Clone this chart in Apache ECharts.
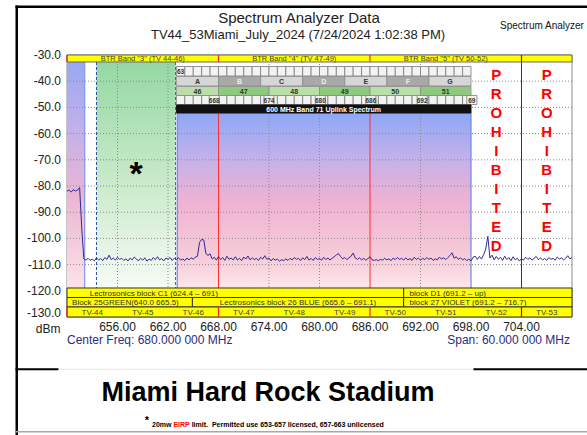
<!DOCTYPE html>
<html><head><meta charset="utf-8">
<script src="https://cdn.jsdelivr.net/npm/echarts@6/dist/echarts.min.js"></script>
<style>html,body{margin:0;padding:0;background:#fff}#c{width:587px;height:435px}</style>
</head><body><div id="c"></div>
<script>
// ---------------- DATA ----------------
const traceStartMHz = 650;
const traceStepMHz = 0.25;
const traceDbm = [
-82.0,-81.5,-82.3,-81.4,-81.9,-81.6,-80.6,-96.0,-107.8,-108.3,
-107.6,-108.4,-107.9,-108.6,-107.4,-108.2,-107.7,-108.5,-107.3,-108.0,
-106.4,-108.1,-107.5,-108.3,-107.2,-108.0,-107.6,-108.4,-107.8,-108.6,
-107.5,-108.2,-107.1,-107.9,-108.5,-107.6,-108.3,-107.4,-108.7,-107.9,
-108.4,-107.3,-108.1,-107.0,-108.2,-107.7,-108.6,-107.5,-108.0,-107.3,
-108.4,-107.6,-108.1,-107.4,-108.3,-107.8,-108.5,-107.5,-108.2,-107.4,
-107.9,-107.2,-106.8,-101.5,-100.4,-100.6,-105.8,-106.5,-105.9,-107.9,
-107.2,-108.3,-106.9,-108.1,-107.3,-108.4,-106.8,-108.0,-107.5,-108.2,
-107.0,-108.3,-107.6,-108.5,-107.1,-107.9,-106.7,-108.2,-107.4,-108.1,
-107.6,-108.4,-107.2,-107.9,-106.6,-108.0,-107.5,-108.6,-107.7,-108.3,
-107.9,-108.7,-108.1,-108.5,-107.8,-108.4,-107.6,-108.2,-107.3,-108.0,
-107.6,-108.5,-107.4,-108.1,-106.9,-108.3,-107.6,-108.4,-107.3,-108.0,
-107.7,-108.3,-107.2,-108.1,-107.5,-108.2,-107.6,-107.0,-106.3,-105.8,
-106.9,-107.8,-107.3,-108.1,-107.4,-106.8,-105.6,-107.5,-108.0,-107.4,
-108.2,-107.6,-108.3,-107.7,-107.0,-108.2,-108.4,-108.1,-108.5,-108.0,
-108.3,-107.6,-108.2,-107.8,-108.5,-107.5,-108.1,-107.3,-108.0,-107.6,
-108.3,-107.4,-108.2,-107.7,-108.4,-107.2,-108.0,-107.5,-108.3,-107.6,
-108.1,-107.3,-108.0,-107.5,-108.4,-107.8,-108.2,-107.1,-107.9,-107.4,
-108.1,-107.3,-106.5,-105.5,-107.6,-107.0,-108.0,-107.4,-108.2,-107.7,
-108.5,-107.9,-108.6,-107.2,-106.8,-108.0,-106.9,-107.9,-106.2,-104.0,
-99.2,-107.5,-106.4,-108.2,-106.9,-108.0,-107.2,-108.4,-106.8,-108.1,
-107.3,-108.5,-107.0,-108.2,-107.6,-108.6,-107.8,-108.3,-107.2,-108.0,
-107.4,-108.3,-107.6,-106.9,-108.1,-107.5,-108.2,-107.7,-108.4,-107.3,
-108.0,-107.6,-108.3,-107.1,-107.9,-107.4,-108.2,-107.6,-106.6,-107.8,
-107.3
];
const xTickValues = [656, 662, 668, 674, 680, 686, 692, 698, 704];
const btrLabels = ['BTR Band "3" (TV 44-46)', 'BTR Band "4" (TV 47-49)', 'BTR Band "5" (TV 50-52)', ''];
const btrEdges = [650, 668, 686, 704, 710];
const blockLetters = ['A', 'B', 'C', 'D', 'E', 'F', 'G'];
const blockEdges = [663, 668, 673, 678, 683, 688, 693, 698];
const tvTopLabels = ['46', '47', '48', '49', '50', '51'];
const tvTopEdges = [663, 668, 674, 680, 686, 692, 698];
const fineTopLabels = [['63', 663.5]];
const fineBottomLabels = [['668', 667.5], ['674', 674.0], ['680', 680.1], ['686', 686.1], ['692', 692.2], ['69', 698.1]];
const band71Label = '600 MHz Band 71 Uplink Spectrum';
const band71Range = [663, 698];
const lectroRow1Labels = ['Lectrosonics block C1 (624.4 \u2013 691)', 'block D1 (691.2 \u2013 up)'];
const lectroRow1Edges = [650, 690, 710];
const lectroRow2Labels = ['Block 25GREEN(640.0 665.5)', 'Lectrosonics block 26 BLUE (665.6 \u2013 691.1)', 'block 27 VIOLET (691.2 \u2013 716.7)'];
const lectroRow2Edges = [650, 664.9, 690, 710];
const tvBottomLabels = ['TV-44', 'TV-45', 'TV-46', 'TV-47', 'TV-48', 'TV-49', 'TV-50', 'TV-51', 'TV-52', 'TV-53'];
const tvBottomEdges = [650, 656, 662, 668, 674, 680, 686, 692, 698, 704, 710];
const redLineFreqs = [668, 686];
const darkRedLineFreqs = [704];
const mainRegionRanges = [[650, 652.1], [653.5, 662.9], [663.1, 698]];
const prohibitedCenters = [701, 707];

// ---------------- LAYOUT ----------------
const FONT = '"Liberation Sans", Arial, sans-serif';
const Y_TOPBAR = [-30, -32.67];
const Y_ROW1 = [-34.39, -38.02];
const Y_ROW2 = [-38.21, -41.83];
const Y_ROW3 = [-42.02, -45.46];
const Y_ROW4 = [-45.46, -48.89];
const Y_BLACK = [-49.08, -52.14];
const Y_REG_TOP = -32.67, Y_REG_BOT = -118.93;
const Y_BAR1 = [-118.93, -122.56];
const Y_BAR2 = [-122.56, -126.18];
const Y_BAR3 = [-126.18, -130];

const grad = (stops) => new echarts.graphic.LinearGradient(0, 0, 0, 1, stops.map((c) => ({offset: c[0], color: c[1]})));
const purpleGrad = grad([[0, '#98a8f4'], [0.3, '#c4b0ea'], [0.6, '#ecb6d2'], [1, '#fbe2e8']]);
const greenGrad = grad([[0, '#95d8a4'], [0.5, '#c6e9c8'], [1, '#f6fbf6']]);
const blueGrad = grad([[0, '#8ea7f6'], [0.27, '#c6b1ea'], [0.5, '#eeb2d2'], [0.84, '#f7cdd9'], [1, '#fde6ec']]);

const regions = [
  {x0: mainRegionRanges[0][0], x1: mainRegionRanges[0][1], y0: Y_REG_TOP, y1: Y_REG_BOT, fill: purpleGrad},
  {x0: mainRegionRanges[1][0], x1: mainRegionRanges[1][1], y0: Y_REG_TOP, y1: Y_REG_BOT, fill: greenGrad},
  {x0: mainRegionRanges[2][0], x1: mainRegionRanges[2][1], y0: Y_BLACK[1], y1: Y_REG_BOT, fill: blueGrad}
];

const gridLines = [];
for (let v = -120; v <= -40; v += 10) gridLines.push({x0: 650, y0: v, x1: 710, y1: v, stroke: '#8a8a8a', lw: 1, dash: [1, 2]});
[656, 662, 674, 680, 692].forEach(f => gridLines.push({x0: f, y0: -30, x1: f, y1: -130, stroke: '#8a8a8a', lw: 1, dash: [1, 2]}));

const markerLines = [];
redLineFreqs.forEach(f => markerLines.push({x0: f, y0: Y_BLACK[1], x1: f, y1: Y_REG_BOT, stroke: '#ff3030', lw: 1}));
darkRedLineFreqs.forEach(f => markerLines.push({x0: f, y0: Y_REG_TOP, x1: f, y1: Y_REG_BOT, stroke: '#b80000', lw: 1}));
markerLines.push({x0: mainRegionRanges[0][1], y0: Y_REG_TOP, x1: mainRegionRanges[0][1], y1: Y_REG_BOT, stroke: '#7e98ea', lw: 1.2});
markerLines.push({x0: mainRegionRanges[1][0], y0: Y_REG_TOP, x1: mainRegionRanges[1][0], y1: Y_REG_BOT, stroke: '#2a4aa8', lw: 1, dash: [3, 2]});
markerLines.push({x0: mainRegionRanges[1][1], y0: Y_REG_TOP, x1: mainRegionRanges[1][1], y1: Y_REG_BOT, stroke: '#3a5ab8', lw: 1, dash: [3, 2]});
markerLines.push({x0: mainRegionRanges[2][0], y0: Y_BLACK[1], x1: mainRegionRanges[2][0], y1: Y_REG_BOT, stroke: '#6a88e4', lw: 1.2});
markerLines.push({x0: mainRegionRanges[2][1], y0: Y_BLACK[1], x1: mainRegionRanges[2][1], y1: Y_REG_BOT, stroke: '#6a88e4', lw: 1.2});

const boxes = [];
const smallBold = 'bold 6.5px ' + FONT;
boxes.push({x0: 650, x1: 710, y0: Y_TOPBAR[0], y1: Y_TOPBAR[1], fill: '#ffff00', stroke: '#666', lw: 1});
btrLabels.forEach((t, i) => { if (t) boxes.push({x0: btrEdges[i], x1: btrEdges[i + 1], y0: Y_TOPBAR[0], y1: Y_TOPBAR[1], fill: 'none', text: t, font: '7.5px ' + FONT, color: '#44441e', align: 'center'}); });
for (let f = band71Range[0]; f < band71Range[1]; f += 1) {
  boxes.push({x0: f, x1: f + 1, y0: Y_ROW1[0], y1: Y_ROW1[1], fill: '#f3f3f3', stroke: '#7a7a7a', lw: 0.8});
  boxes.push({x0: f, x1: f + 1, y0: Y_ROW4[0], y1: Y_ROW4[1], fill: '#f3f3f3', stroke: '#7a7a7a', lw: 0.8});
}
fineTopLabels.forEach(l => boxes.push({x0: l[1] - 0.5, x1: l[1] + 0.5, y0: Y_ROW1[0], y1: Y_ROW1[1], fill: 'none', text: l[0], font: smallBold, color: '#333', align: 'center'}));
fineBottomLabels.forEach(l => boxes.push({x0: l[1] - 0.6, x1: l[1] + 0.6, y0: Y_ROW4[0], y1: Y_ROW4[1], fill: '#f3f3f3', stroke: '#7a7a7a', lw: 0.8, text: l[0], font: smallBold, color: '#333', align: 'center'}));
blockLetters.forEach((t, i) => boxes.push({x0: blockEdges[i], x1: blockEdges[i + 1], y0: Y_ROW2[0], y1: Y_ROW2[1], fill: i % 2 ? '#a9a9a9' : '#d6d6d6', stroke: '#8a8a8a', lw: 0.8, text: t, font: 'bold 7px ' + FONT, color: i % 2 ? '#eeeeee' : '#333', align: 'center'}));
tvTopLabels.forEach((t, i) => boxes.push({x0: tvTopEdges[i], x1: tvTopEdges[i + 1], y0: Y_ROW3[0], y1: Y_ROW3[1], fill: i % 2 ? '#8ec97d' : '#b9dea9', stroke: '#8a8a8a', lw: 0.8, text: t, font: 'bold 7px ' + FONT, color: '#333', align: 'center'}));
boxes.push({x0: band71Range[0], x1: band71Range[1], y0: Y_BLACK[0], y1: Y_BLACK[1], fill: '#111', stroke: '#111', lw: 1, text: band71Label, font: 'bold 7px ' + FONT, color: '#fff', align: 'center'});
lectroRow1Labels.forEach((t, i) => boxes.push({x0: lectroRow1Edges[i], x1: lectroRow1Edges[i + 1], y0: Y_BAR1[0], y1: Y_BAR1[1], fill: '#ffff00', stroke: '#333', lw: 1, text: t, font: '8px ' + FONT, color: '#333', align: 'left', tx: i === 0 ? 652.7 : 690.7}));
lectroRow2Labels.forEach((t, i) => boxes.push({x0: lectroRow2Edges[i], x1: lectroRow2Edges[i + 1], y0: Y_BAR2[0], y1: Y_BAR2[1], fill: '#ffff00', stroke: '#333', lw: 1, text: t, font: '8px ' + FONT, color: '#333', align: i === 1 ? 'center' : 'left', tx: i === 0 ? 650.6 : 690.7}));
boxes.push({x0: 650, x1: 710, y0: Y_BAR3[0], y1: Y_BAR3[1], fill: '#ffff00', stroke: '#333', lw: 1});
tvBottomLabels.forEach((t, i) => boxes.push({x0: tvBottomEdges[i], x1: tvBottomEdges[i + 1], y0: Y_BAR3[0], y1: Y_BAR3[1], fill: 'none', text: t, font: '8px ' + FONT, color: '#444', align: 'center'}));

const sepLines = [];
[650].concat(redLineFreqs).forEach(f => {
  sepLines.push({x0: f, y0: Y_TOPBAR[0], x1: f, y1: Y_TOPBAR[1], stroke: '#ff2020', lw: 1.2});
  sepLines.push({x0: f, y0: Y_BAR3[0], x1: f, y1: Y_BAR3[1], stroke: '#ff2020', lw: 1.2});
});
darkRedLineFreqs.forEach(f => {
  sepLines.push({x0: f, y0: Y_TOPBAR[0], x1: f, y1: Y_TOPBAR[1], stroke: '#cc0000', lw: 1.2});
  sepLines.push({x0: f, y0: Y_BAR3[0], x1: f, y1: Y_BAR3[1], stroke: '#cc0000', lw: 1.2});
});

const plotTexts = [];
prohibitedCenters.forEach(f => plotTexts.push({x: f, y: -33.63, text: 'PROHIBITED'.split('').join('\n'), font: 'bold 15px ' + FONT, color: '#ff0000', align: 'center', valign: 'top', lh: 19}));
plotTexts.push({x: 658.2, y: -75.0, text: '*', font: 'bold 34px ' + FONT, color: '#000', align: 'center', valign: 'middle'});

// ---------------- RENDERERS ----------------
function rectRender(items) {
  return function (params, api) {
    const it = items[params.dataIndex];
    const p0 = api.coord([it.x0, it.y0]);
    const p1 = api.coord([it.x1, it.y1]);
    const x = Math.min(p0[0], p1[0]), y = Math.min(p0[1], p1[1]);
    const w = Math.abs(p1[0] - p0[0]), h = Math.abs(p1[1] - p0[1]);
    const children = [];
    if (it.fill !== 'none' || it.stroke) {
      children.push({type: 'rect', shape: {x: x, y: y, width: w, height: h},
        style: {fill: it.fill === 'none' ? null : it.fill, stroke: it.stroke || null, lineWidth: it.lw || 1}});
    }
    if (it.text) {
      let tx = x + w / 2;
      if (it.align === 'left') tx = api.coord([it.tx, it.y0])[0];
      children.push({type: 'text', style: {text: it.text, x: tx, y: y + h / 2 + 0.5, align: it.align === 'left' ? 'left' : 'center', verticalAlign: 'middle', font: it.font, fill: it.color}});
    }
    return {type: 'group', children: children};
  };
}
function lineRender(items) {
  return function (params, api) {
    const it = items[params.dataIndex];
    const p0 = api.coord([it.x0, it.y0]);
    const p1 = api.coord([it.x1, it.y1]);
    return {type: 'line', shape: {x1: p0[0], y1: p0[1], x2: p1[0], y2: p1[1]},
      style: {stroke: it.stroke, lineWidth: it.lw, lineDash: it.dash || null}};
  };
}
function textRender(items) {
  return function (params, api) {
    const it = items[params.dataIndex];
    const p = api.coord([it.x, it.y]);
    return {type: 'text', style: {text: it.text, x: p[0], y: p[1], align: it.align, verticalAlign: it.valign, font: it.font, fill: it.color, lineHeight: it.lh || undefined}};
  };
}
const customSeries = (items, render, z) => ({type: 'custom', renderItem: render(items), data: items.map((_, i) => [i]), z: z, silent: true, animation: false, clip: false, encode: {x: -1, y: -1}});

const traceData = traceDbm.map((v, i) => [traceStartMHz + i * traceStepMHz, v]);

// ---------------- CHART ----------------
const chart = echarts.init(document.getElementById('c'), null, {renderer: 'svg', width: 587, height: 435});
chart.setOption({
  animation: false,
  backgroundColor: '#ffffff',
  grid: {left: 67, right: 15, top: 55, bottom: 118, show: true, borderColor: '#8c8c8c', borderWidth: 1, backgroundColor: 'transparent'},
  xAxis: {type: 'value', min: 650, max: 710,
    axisLine: {show: false}, axisTick: {show: false}, splitLine: {show: false},
    axisLabel: {customValues: xTickValues, formatter: v => v.toFixed(2), fontSize: 12, color: '#222', margin: 4, fontFamily: FONT}},
  yAxis: {type: 'value', min: -130, max: -30, interval: 10,
    axisLine: {show: false}, axisTick: {show: false}, splitLine: {show: false},
    axisLabel: {formatter: v => v === -130 ? '{low|' + v.toFixed(1) + '}' : v.toFixed(1), fontSize: 12, color: '#222', margin: 6, fontFamily: FONT,
      rich: {low: {fontSize: 12, color: '#222', fontFamily: FONT, padding: [0, 0, 8, 0]}}}},
  series: [
    customSeries(regions, rectRender, 1),
    customSeries(gridLines, lineRender, 2),
    customSeries(markerLines, lineRender, 3),
    customSeries(boxes, rectRender, 4),
    customSeries(sepLines, lineRender, 5),
    customSeries(plotTexts, textRender, 6),
    {type: 'line', data: traceData, showSymbol: false, symbol: 'none', z: 7, animation: false,
      lineStyle: {color: '#2e2a8f', width: 1}}
  ],
  graphic: [
    {type: 'rect', shape: {x: 15.5, y: 5.5, width: 2.5, height: 430}, style: {fill: '#000'}, z: 10},
    {type: 'rect', shape: {x: 15.5, y: 5.5, width: 572, height: 2.5}, style: {fill: '#000'}, z: 10},
    {type: 'rect', shape: {x: 15.5, y: 368.3, width: 43, height: 2}, style: {fill: '#000'}, z: 10},
    {type: 'rect', shape: {x: 58.5, y: 368.8, width: 415, height: 1}, style: {fill: '#e4e4e4'}, z: 10},
    {type: 'rect', shape: {x: 473.5, y: 368.3, width: 114, height: 2}, style: {fill: '#000'}, z: 10},
    {type: 'rect', shape: {x: 15.5, y: 431, width: 572, height: 1.5}, style: {fill: '#a8a8a8'}, z: 10},
    {type: 'text', x: 299, y: 17, style: {text: 'Spectrum Analyzer Data', font: '15px ' + FONT, fill: '#222', align: 'center', verticalAlign: 'middle'}},
    {type: 'text', x: 298, y: 34.5, style: {text: 'TV44_53Miami_July_2024 (7/24/2024 1:02:38 PM)', font: '13px ' + FONT, fill: '#222', align: 'center', verticalAlign: 'middle'}},
    {type: 'text', x: 500, y: 25, style: {text: 'Spectrum Analyzer', font: '10px ' + FONT, fill: '#111', align: 'left', verticalAlign: 'middle'}},
    {type: 'text', x: 60.5, y: 329, style: {text: 'dBm', font: '12px ' + FONT, fill: '#222', align: 'right', verticalAlign: 'middle'}},
    {type: 'text', x: 67, y: 339.5, style: {text: 'Center Freq: 680.000 000 MHz', font: '12px ' + FONT, fill: '#2c2c7c', align: 'left', verticalAlign: 'middle'}},
    {type: 'text', x: 570, y: 339.5, style: {text: 'Span: 60.000 000 MHz', font: '12px ' + FONT, fill: '#2c2c7c', align: 'right', verticalAlign: 'middle'}},
    {type: 'text', x: 268, y: 391.5, style: {text: 'Miami Hard Rock Stadium', font: 'bold 27px ' + FONT, fill: '#000', align: 'center', verticalAlign: 'middle'}},
    {type: 'text', x: 147, y: 420, style: {text: '*', font: 'bold 11px ' + FONT, fill: '#000', align: 'center', verticalAlign: 'middle'}},
    {type: 'text', x: 152, y: 424.5, style: {text: '{b|20mw }{r|EIRP}{b| limit.  Permitted use 653-657 licensed, 657-663 unlicensed}', align: 'left', verticalAlign: 'middle',
      rich: {b: {font: 'bold 7px ' + FONT, fill: '#000'}, r: {font: 'bold 7px ' + FONT, fill: '#ff0000'}}}}
  ]
});
</script></body></html>
